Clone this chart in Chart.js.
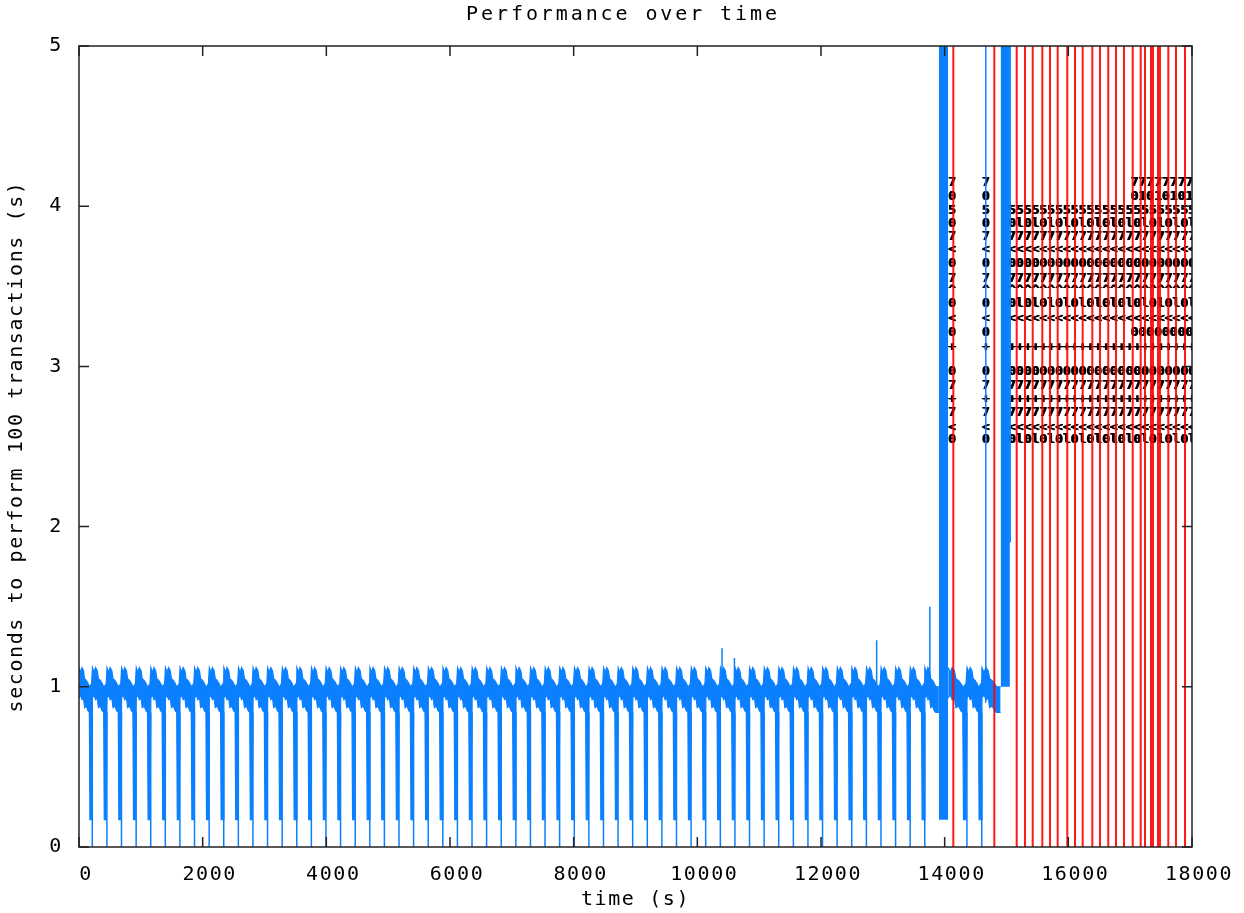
<!DOCTYPE html>
<html><head><meta charset="utf-8">
<script src="https://cdn.jsdelivr.net/npm/chart.js@4/dist/chart.umd.min.js"></script>
<style>html,body{margin:0;padding:0;background:#fff}#wrap{width:1244px;height:913px;position:relative}</style>
</head><body><div id="wrap"><canvas id="c" width="1244" height="913"></canvas></div>
<script>
// ---- data ----
const xTickValues = [0, 2000, 4000, 6000, 8000, 10000, 12000, 14000, 16000, 18000];
const yTickValues = [0, 1, 2, 3, 4, 5];

// times where the blue series falls to 0
const dropTimes = [215, 451, 687, 924, 1160, 1396, 1632, 1868, 2105, 2341, 2577, 2813, 3049, 3286,
  3522, 3758, 3994, 4230, 4467, 4703, 4939, 5175, 5411, 5648, 5884, 6120, 6356, 6592, 6829, 7065,
  7301, 7537, 7773, 8010, 8246, 8482, 8718, 8954, 9191, 9427, 9663, 9899, 10135, 10372, 10608,
  10844, 11080, 11316, 11553, 11789, 12025, 12261, 12497, 12734, 12970, 13206, 13442, 13678,
  14360, 14600];
// stretches where the blue series stays around 1 s
const bandStarts = [0, 14054];
const bandEnds = [13907, 14905];
// shape of one cycle of the blue band (fraction of the cycle, upper and lower edge)
const cycleFrac = [0.01, 0.12, 0.22, 0.34, 0.42, 0.55, 0.68, 0.78, 0.82, 0.95];
const cycleTop = [1.12, 1.09, 1.12, 1.10, 1.05, 1.04, 1.02, 1.00, 1.00, 1.02];
const cycleBottom = [0.93, 0.95, 0.92, 0.93, 0.87, 0.88, 0.85, 0.84, 0.17, 0.17];
// isolated blue spikes
const spikeTimes = [10400, 10600, 12900, 13760, 14665, 15060];
const spikeFrom = [1.0, 1.0, 1.0, 1.0, 0.9, 5.6];
const spikeTo = [1.24, 1.18, 1.29, 1.5, 5.6, 1.9];
// solid blue bursts beyond the top
const burstStart = [13907, 14905];
const burstEnd = [14054, 15055];
const burstBase = [0.17, 1.0];
// red series: vertical lines from 0 past the top
const redTimes = [14140, 14803, 15165, 15299, 15424, 15579, 15704, 15828, 15983, 16108, 16232,
  16388, 16512, 16646, 16771, 16900, 17041, 17170, 17240, 17337, 17369, 17450, 17482, 17617, 17741, 17887];
// point labels of the red series
const labelRowValues = [4.15, 4.06, 3.97, 3.89, 3.81, 3.73, 3.64, 3.55, 3.47, 3.39, 3.30, 3.21, 3.12, 2.97, 2.88, 2.79, 2.71, 2.62, 2.54];
const labelRowStart = [17000, 17000, 15020, 15020, 15020, 15020, 15020, 15020, 15020, 15020, 15020, 17000, 15020, 15020, 15020, 15020, 15020, 15020, 15020];
const labelRowText = ["7", "01", "5", "0l", "7", "<", "0", "7", "^", "0l", "<", "0", "+", "0", "7", "+", "7", "<", "0l"];
const labelColumnTimes = [14115, 14660];

const TOP = 5.6;
const BLUE = '#0a80ff';
const RED = '#ff0000';

// ---- build datasets from the arrays ----
const bandTop = [], bandBottom = [];
bandStarts.forEach((s, g) => {
  const e = bandEnds[g];
  const pts = [s, ...dropTimes.filter(t => t > s && t < e), e];
  for (let i = 0; i < pts.length - 1; i++) {
    const a = pts[i], b = pts[i + 1], L = b - a;
    const n = dropTimes.includes(b) ? cycleFrac.length : 8;
    for (let j = 0; j < n; j++) {
      bandTop.push({x: a + cycleFrac[j] * L, y: cycleTop[j]});
      bandBottom.push({x: a + cycleFrac[j] * L, y: cycleBottom[j]});
    }
  }
  bandTop.push({x: e, y: cycleTop[7]}); bandBottom.push({x: e, y: cycleBottom[7]});
  bandTop.push({x: e + 1, y: null}); bandBottom.push({x: e + 1, y: null});
});
const thin = [];
dropTimes.forEach(t => { thin.push({x: t, y: 0.84}, {x: t, y: 0}, {x: t, y: null}); });
const spikes = [];
spikeTimes.forEach((t, i) => { spikes.push({x: t, y: spikeFrom[i]}, {x: t, y: spikeTo[i]}, {x: t, y: null}); });
const red = [];
redTimes.forEach(t => { red.push({x: t, y: 0}, {x: t, y: TOP}, {x: t, y: null}); });

const datasets = [
  {data: red, borderColor: 'rgba(255,0,0,0.9)', borderWidth: 2, pointRadius: 0, spanGaps: false, fill: false},
  {data: spikes, borderColor: BLUE, borderWidth: 1.5, pointRadius: 0, spanGaps: false, fill: false},
  {data: thin, borderColor: BLUE, borderWidth: 1.5, pointRadius: 0, spanGaps: false, fill: false},
  {data: bandTop, borderColor: BLUE, borderWidth: 1.2, pointRadius: 0, spanGaps: false, fill: false},
  {data: bandBottom, borderColor: BLUE, borderWidth: 1.2, pointRadius: 0, spanGaps: false, fill: '-1', backgroundColor: BLUE},
];
burstStart.forEach((s, i) => {
  datasets.push({data: [{x: s, y: TOP}, {x: burstEnd[i], y: TOP}], borderWidth: 0, pointRadius: 0,
    fill: {value: burstBase[i]}, backgroundColor: BLUE, borderColor: BLUE});
});

const FONT = 'DejaVu Sans Mono';
const spacingPlugin = {
  id: 'spacing',
  beforeUpdate(chart) { chart.ctx.letterSpacing = '1.6px'; },
  beforeDraw(chart) { chart.ctx.letterSpacing = '1.6px'; }
};
const labelPlugin = {
  id: 'pointLabels',
  beforeDatasetsDraw(chart) {
    const {ctx, chartArea: a, scales: {x, y}} = chart;
    ctx.save();
    ctx.beginPath(); ctx.rect(a.left, a.top, a.right - a.left, a.bottom - a.top); ctx.clip();
    ctx.letterSpacing = '0px';
    ctx.font = 'bold 13px "' + FONT + '"';
    ctx.fillStyle = '#000'; ctx.textBaseline = 'middle'; ctx.textAlign = 'left';
    labelRowValues.forEach((v, i) => {
      const py = y.getPixelForValue(v);
      const txt = labelRowText[i].repeat(60).slice(0, 40);
      const px = x.getPixelForValue(labelRowStart[i]);
      ctx.fillText(txt, px, py);
      ctx.fillText(txt, px + 1, py);
      labelColumnTimes.forEach(t => {
        const cx = x.getPixelForValue(t) - 4;
        ctx.fillText(labelRowText[i].charAt(0), cx, py);
        ctx.fillText(labelRowText[i].charAt(0), cx + 1, py);
      });
    });
    ctx.restore();
  }
};
const framePlugin = {
  id: 'frame',
  afterDraw(chart) {
    const {ctx, chartArea: a, scales: {x, y}} = chart;
    ctx.save();
    ctx.strokeStyle = '#222'; ctx.lineWidth = 1.5;
    ctx.strokeRect(a.left, a.top, a.right - a.left, a.bottom - a.top);
    ctx.beginPath();
    const T = 10;
    xTickValues.forEach(v => { const px = x.getPixelForValue(v);
      ctx.moveTo(px, a.bottom); ctx.lineTo(px, a.bottom - T);
      ctx.moveTo(px, a.top); ctx.lineTo(px, a.top + T); });
    yTickValues.forEach(v => { const py = y.getPixelForValue(v);
      ctx.moveTo(a.left, py); ctx.lineTo(a.left + T, py);
      ctx.moveTo(a.right, py); ctx.lineTo(a.right - T, py); });
    ctx.stroke();
    // title
    ctx.letterSpacing = '2.9px';
    ctx.font = '20px "' + FONT + '"';
    ctx.fillStyle = '#000'; ctx.textAlign = 'center'; ctx.textBaseline = 'middle';
    ctx.fillText('Performance over time', 623, 15);
    ctx.restore();
  }
};

new Chart(document.getElementById('c'), {
  type: 'line',
  data: {datasets},
  plugins: [spacingPlugin, labelPlugin, framePlugin],
  options: {
    responsive: false, animation: false, events: [],
    layout: {padding: {top: 46, right: 52, left: 0, bottom: 0}},
    plugins: {legend: {display: false}, tooltip: {enabled: false}, title: {display: false}},
    scales: {
      x: {
        type: 'linear', min: 0, max: 18000,
        afterBuildTicks: s => { s.ticks = xTickValues.map(v => ({value: v})); },
        afterFit: s => { s.height = 66; },
        grid: {display: false}, border: {display: false},
        ticks: {color: '#000', font: {family: FONT, size: 20}, padding: 8, labelOffset: 7, maxRotation: 0, autoSkip: false,
          callback: v => String(v)},
        title: {display: true, text: 'time (s)', color: '#000', font: {family: FONT, size: 20, lineHeight: 1.2}, padding: {top: 0, bottom: 1}}
      },
      y: {
        type: 'linear', min: 0, max: 5,
        afterBuildTicks: s => { s.ticks = yTickValues.map(v => ({value: v})); },
        afterFit: s => { s.width = 79; },
        grid: {display: false}, border: {display: false},
        ticks: {color: '#000', font: {family: FONT, size: 20}, padding: 8, autoSkip: false, callback: v => String(v)},
        title: {display: true, text: 'seconds to perform 100 transactions (s)', color: '#000', font: {family: FONT, size: 20, lineHeight: 1.2}, padding: {top: 5, bottom: 0}}
      }
    }
  }
});
</script></body></html>
